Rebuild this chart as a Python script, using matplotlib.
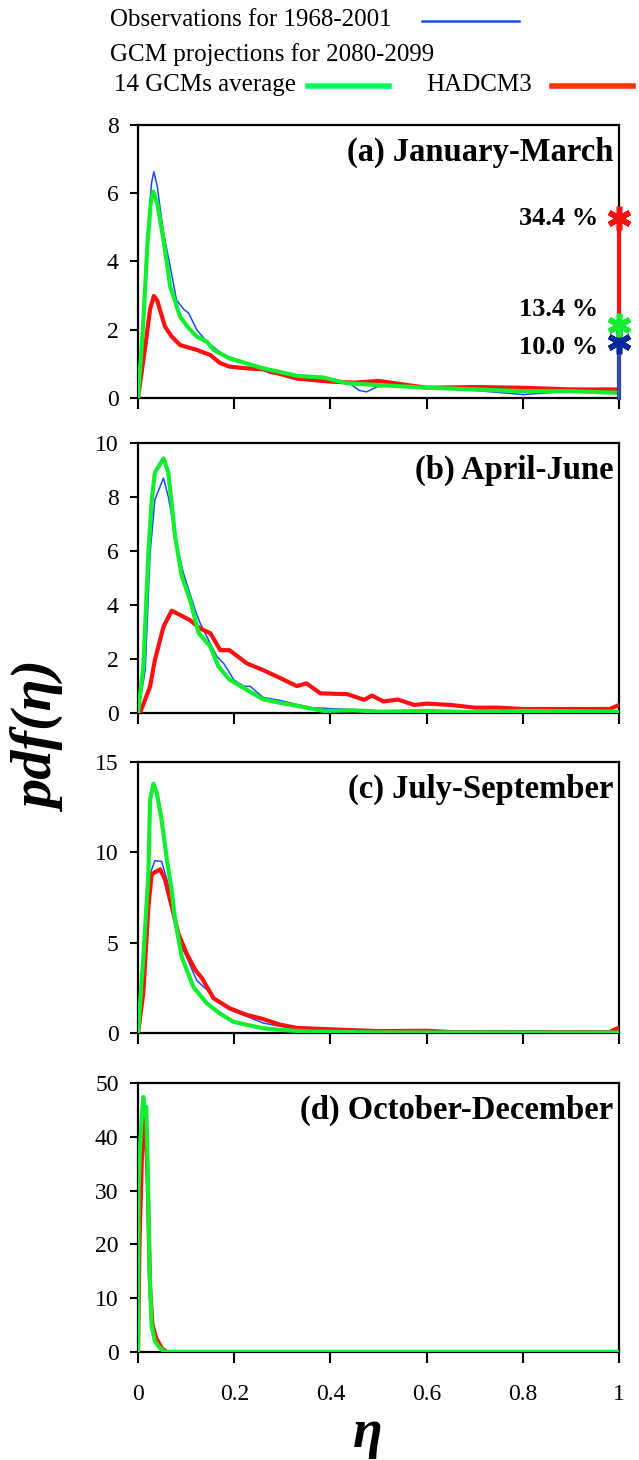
import matplotlib
matplotlib.use("Agg")
import matplotlib.pyplot as plt
from matplotlib.lines import Line2D

plt.rcParams['font.family'] = ['Liberation Serif', 'DejaVu Serif']

# panel (a) January-March
a_obs_x = [0, 0.01, 0.02, 0.028, 0.033, 0.04, 0.053, 0.067, 0.08, 0.095, 0.105, 0.122, 0.143, 0.178, 0.219, 0.25,
           0.275, 0.33, 0.4, 0.44, 0.46, 0.475, 0.497, 0.53, 0.6, 0.7, 0.76, 0.8, 0.85, 0.9, 1.0]
a_obs_y = [0, 2.2, 4.8, 6.3, 6.63, 6.2, 4.83, 3.85, 2.87, 2.6, 2.49, 2.0, 1.65, 1.26, 1.06, 0.9,
           0.72, 0.62, 0.48, 0.42, 0.22, 0.18, 0.33, 0.35, 0.3, 0.22, 0.15, 0.1, 0.15, 0.2, 0.15]
a_gcm_x = [0, 0.01, 0.02, 0.027, 0.032, 0.04, 0.053, 0.067, 0.0875, 0.105, 0.122, 0.143, 0.157, 0.19, 0.26, 0.33,
           0.385, 0.435, 0.5, 0.6, 0.7, 0.8, 0.9, 1.0]
a_gcm_y = [0, 2.0, 4.6, 5.8, 6.05, 5.7, 4.63, 3.26, 2.38, 2.05, 1.8, 1.65, 1.41, 1.16, 0.87, 0.65,
           0.6, 0.43, 0.38, 0.3, 0.25, 0.2, 0.2, 0.15]
a_had_x = [0, 0.015, 0.025, 0.033, 0.04, 0.056, 0.07, 0.0875, 0.122, 0.15, 0.171, 0.19, 0.225, 0.26, 0.33, 0.4,
           0.45, 0.5, 0.55, 0.6, 0.7, 0.8, 0.9, 1.0]
a_had_y = [0, 1.5, 2.6, 2.99, 2.85, 2.09, 1.8, 1.55, 1.41, 1.26, 1.02, 0.92, 0.87, 0.84, 0.57, 0.48,
           0.45, 0.5, 0.4, 0.3, 0.32, 0.3, 0.25, 0.25]

# panel (b) April-June
b_obs_x = [0, 0.015, 0.025, 0.035, 0.053, 0.063, 0.08, 0.094, 0.119, 0.129, 0.15, 0.164, 0.178, 0.199, 0.22, 0.233,
           0.26, 0.295, 0.33, 0.36, 0.42, 0.5, 0.6, 0.8, 1.0]
b_obs_y = [0, 1.6, 5.9, 7.9, 8.7, 8.0, 6.3, 5.2, 3.8, 3.33, 2.58, 2.09, 1.84, 1.23, 0.99, 0.99,
           0.58, 0.47, 0.32, 0.2, 0.15, 0.08, 0.05, 0.03, 0.02]
b_gcm_x = [0, 0.011, 0.0215, 0.0285, 0.035, 0.053, 0.063, 0.077, 0.091, 0.108, 0.126, 0.15, 0.167, 0.19, 0.226,
           0.26, 0.295, 0.33, 0.386, 0.45, 0.5, 0.6, 0.7, 0.8, 1.0]
b_gcm_y = [0, 1.72, 5.9, 7.9, 8.9, 9.43, 8.9, 6.54, 5.06, 4.2, 2.96, 2.47, 1.73, 1.24, 0.86,
           0.51, 0.38, 0.27, 0.08, 0.1, 0.05, 0.08, 0.03, 0.08, 0.05]
b_had_x = [0, 0.004, 0.025, 0.035, 0.053, 0.07, 0.094, 0.108, 0.129, 0.15, 0.171, 0.19, 0.226, 0.26, 0.295, 0.33,
           0.35, 0.379, 0.435, 0.47, 0.486, 0.51, 0.54, 0.574, 0.6, 0.65, 0.7, 0.75, 0.8, 0.9, 0.98, 1.0]
b_had_y = [0, 0, 0.98, 1.96, 3.2, 3.79, 3.57, 3.44, 3.13, 2.96, 2.33, 2.33, 1.84, 1.59, 1.3, 1.0,
           1.1, 0.73, 0.7, 0.49, 0.65, 0.43, 0.5, 0.3, 0.35, 0.3, 0.2, 0.2, 0.15, 0.15, 0.15, 0.3]

# panel (c) July-September
c_obs_x = [0, 0.015, 0.025, 0.035, 0.049, 0.06, 0.074, 0.0875, 0.101, 0.122, 0.143, 0.163, 0.19, 0.226, 0.26,
           0.295, 0.33, 0.4, 0.5, 0.7, 1.0]
c_obs_y = [0, 5.15, 8.8, 9.54, 9.5, 8.5, 7.0, 4.96, 4.2, 2.9, 2.4, 1.84, 1.29, 0.92, 0.55,
           0.37, 0.22, 0.1, 0.05, 0.03, 0.02]
c_gcm_x = [0, 0.011, 0.0215, 0.025, 0.032, 0.039, 0.049, 0.06, 0.07, 0.077, 0.091, 0.115, 0.143, 0.17, 0.198,
           0.226, 0.26, 0.295, 0.35, 0.5, 1.0]
c_gcm_y = [0, 4.2, 8.8, 12.9, 13.8, 13.3, 11.8, 9.6, 7.9, 6.26, 4.2, 2.55, 1.64, 1.08, 0.62,
           0.45, 0.26, 0.17, 0.08, 0.03, 0.02]
c_had_x = [0, 0.011, 0.0215, 0.0285, 0.046, 0.056, 0.07, 0.084, 0.101, 0.119, 0.133, 0.157, 0.19, 0.226, 0.26,
           0.295, 0.33, 0.4, 0.45, 0.5, 0.6, 0.65, 0.8, 0.98, 1.0]
c_had_y = [0, 2.2, 7.0, 8.8, 9.06, 8.5, 7.0, 5.5, 4.4, 3.49, 3.03, 1.92, 1.37, 1.0, 0.77,
           0.46, 0.28, 0.2, 0.15, 0.1, 0.12, 0.05, 0.05, 0.05, 0.3]

# panel (d) October-December
d_obs_x = [0, 0.003, 0.008, 0.012, 0.016, 0.02, 0.025, 0.03, 0.038, 0.05, 0.06, 1.0]
d_obs_y = [0, 22, 35, 42, 40, 30, 12, 6, 3, 0.8, 0, 0]
d_gcm_x = [0, 0.001, 0.004, 0.008, 0.011, 0.014, 0.017, 0.02, 0.024, 0.028, 0.035, 0.045, 0.055, 1.0]
d_gcm_y = [0, 30, 38, 44, 47.4, 44, 45.6, 35, 15, 5, 2, 0.8, 0, 0]
d_had_x = [0, 0.003, 0.008, 0.012, 0.016, 0.02, 0.025, 0.03, 0.038, 0.05, 0.06, 1.0]
d_had_y = [0, 20, 36, 44, 42, 32, 12, 5, 2.5, 0.6, 0, 0]

titles = ["(a) January-March", "(b) April-June", "(c) July-September", "(d) October-December"]
y_tops = [8, 10, 15, 50]
y_steps = [2, 2, 5, 10]
x_ticks = [0, 0.2, 0.4, 0.6, 0.8, 1.0]
x_ticklabels = ["0", "0.2", "0.4", "0.6", "0.8", "1"]

# probability mass at eta = 1 in panel (a): obs, 14 GCMs, HADCM3
mass_labels = ["10.0 %", "13.4 %", "34.4 %"]
mass_vals = [1.65, 2.14, 5.27]

blue = "#1a4cf5"
green = "#12ee30"
red = "#ff1010"

panels = [
    (a_obs_x, a_obs_y, a_gcm_x, a_gcm_y, a_had_x, a_had_y),
    (b_obs_x, b_obs_y, b_gcm_x, b_gcm_y, b_had_x, b_had_y),
    (c_obs_x, c_obs_y, c_gcm_x, c_gcm_y, c_had_x, c_had_y),
    (d_obs_x, d_obs_y, d_gcm_x, d_gcm_y, d_had_x, d_had_y),
]

fig = plt.figure(figsize=(6.39, 14.6), dpi=100)
boxes = [(0.9144, 0.7274), (0.6966, 0.5116), (0.478, 0.2925), (0.2582, 0.074)]
left, right = 0.216, 0.969

axes = []
for i, (top, bot) in enumerate(boxes):
    ax = fig.add_axes([left, bot, right - left, top - bot])
    ox, oy, gx, gy, hx, hy = panels[i]
    ax.plot(ox, oy, color=blue, lw=1.1, zorder=3)
    ax.plot(hx, hy, color=red, lw=3.0, zorder=4)
    ax.plot(gx, gy, color=green, lw=3.0, zorder=5)
    ax.set_xlim(0, 1)
    ax.set_ylim(0, y_tops[i])
    ax.set_yticks(range(0, y_tops[i] + 1, y_steps[i]))
    ax.set_xticks(x_ticks)
    if i == 3:
        ax.set_xticklabels(x_ticklabels)
    else:
        ax.set_xticklabels([])
    ax.tick_params(axis='x', direction='out', length=8, width=1.5, labelsize=17, pad=15)
    ax.tick_params(axis='y', direction='out', length=6, width=1.5, labelsize=17, pad=8)
    for side in ['top', 'right', 'left', 'bottom']:
        ax.spines[side].set_linewidth(1.6)
    ax.text(0.988, 0.9, titles[i], transform=ax.transAxes, ha='right', va='center',
            fontsize=23.5, fontweight='bold')
    axes.append(ax)

# mass at eta = 1 for panel (a)
ax = axes[0]
ax.plot([1, 1], [0, mass_vals[2]], color=red, lw=3.0, zorder=6, clip_on=False)
ax.plot([1, 1], [0, mass_vals[0]], color="#2f4f9f", lw=3.0, zorder=7, clip_on=False)
star_cols = ["#0a2a9a", "#12ee30", red]
for v, c in zip(mass_vals, star_cols):
    ax.plot([1], [v], marker=(6, 2, 0), ms=17, mew=4, color=c, zorder=8, clip_on=False)
ax.text(0.956, 5.27, mass_labels[2], ha='right', va='center', fontsize=19, fontweight='bold')
ax.text(0.956, 2.58, mass_labels[1], ha='right', va='center', fontsize=19, fontweight='bold')
ax.text(0.956, 1.47, mass_labels[0], ha='right', va='center', fontsize=19, fontweight='bold')

fig.text(0.063, 0.495, "pdf(η)", rotation=90, ha='center', va='center',
         fontsize=42, fontweight='bold', fontstyle='italic')
fig.text(0.576, 0.018, "η", ha='center', va='center',
         fontsize=39, fontweight='bold', fontstyle='italic')

# custom legend at the top
fig.text(0.172, 0.9865, "Observations for 1968-2001", ha='left', va='center', fontsize=18)
fig.add_artist(Line2D([0.661, 0.812], [0.9856, 0.9856], color=blue, lw=1.8))
fig.text(0.172, 0.9625, "GCM projections for 2080-2099", ha='left', va='center', fontsize=18)
fig.text(0.178, 0.9415, "14 GCMs average", ha='left', va='center', fontsize=18)
fig.add_artist(Line2D([0.482, 0.609], [0.9411, 0.9411], color="#00ff60", lw=4))
fig.text(0.667, 0.9415, "HADCM3", ha='left', va='center', fontsize=18)
fig.add_artist(Line2D([0.864, 0.991], [0.9411, 0.9411], color="#ff3300", lw=4))

fig.savefig("out.png", dpi=100)
